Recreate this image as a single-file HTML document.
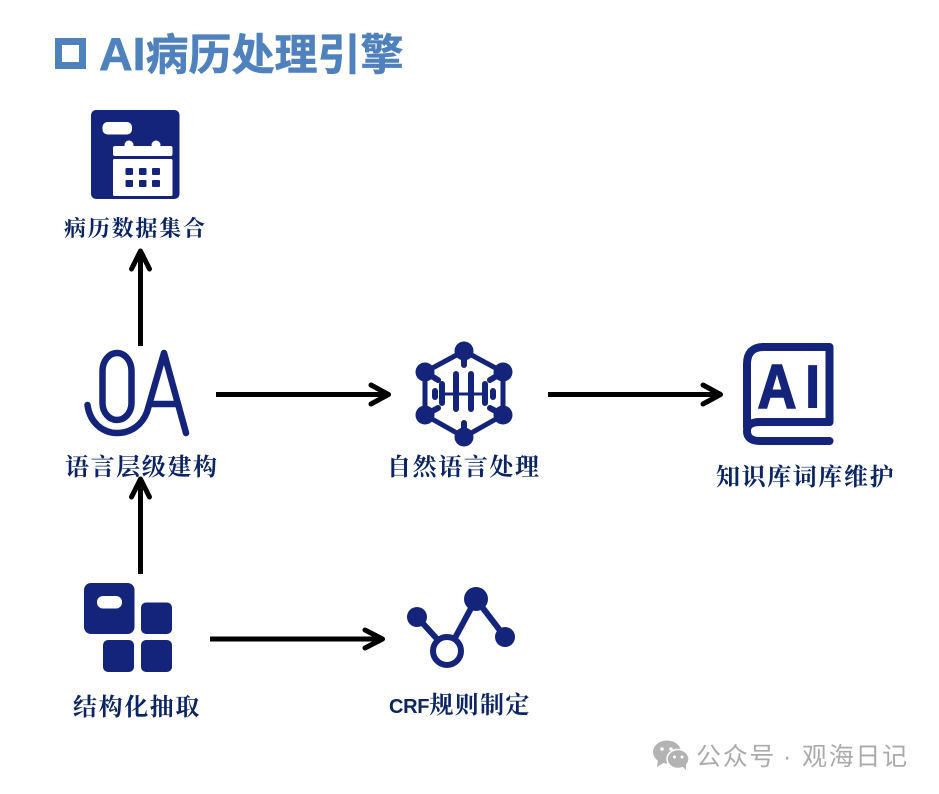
<!DOCTYPE html>
<html lang="zh">
<head>
<meta charset="utf-8">
<title>AI病历处理引擎</title>
<style>
html,body{margin:0;padding:0;background:#fff;width:939px;height:794px;overflow:hidden}
svg{display:block}
.lb{font-family:"Liberation Serif","Noto Serif CJK SC",serif;font-weight:700;fill:#0b2463;font-size:24px;letter-spacing:1.6px}
.wm{font-family:"Liberation Sans","Noto Sans CJK SC",sans-serif;fill:#ababab;font-size:25px;letter-spacing:1.7px}
</style>
</head>
<body>
<svg width="939" height="794" viewBox="0 0 939 794" xmlns="http://www.w3.org/2000/svg">
<rect width="939" height="794" fill="#fff"/>

<!-- Title -->
<rect x="58.5" y="41.5" width="24" height="24" fill="none" stroke="#4f81bd" stroke-width="7"/>
<text x="99" y="70" font-family="'Liberation Sans','Noto Sans CJK SC',sans-serif" font-weight="700" font-size="43" fill="#4f81bd" stroke="#4f81bd" stroke-width="0.6"><tspan font-size="46.5">AI</tspan><tspan>病历处理引擎</tspan></text>

<!-- Calendar icon -->
<rect x="91" y="110" width="88.5" height="89" rx="5" fill="#14247a"/>
<rect x="102.5" y="122" width="29.5" height="12.5" rx="5" fill="#fff"/>
<rect x="113" y="146" width="59.5" height="10" rx="2" fill="#fff"/>
<circle cx="129" cy="145" r="4.5" fill="#fff"/>
<circle cx="156" cy="145" r="4.5" fill="#fff"/>
<rect x="113" y="159" width="59.5" height="37" rx="1.5" fill="#fff"/>
<g fill="#14247a">
<rect x="125.5" y="168" width="7.5" height="7" rx="1"/><rect x="139" y="168" width="7.5" height="7" rx="1"/><rect x="152" y="168" width="8" height="7" rx="1"/>
<rect x="125.5" y="180" width="7.5" height="7" rx="1"/><rect x="139" y="180" width="7.5" height="7" rx="1"/><rect x="152" y="180" width="8" height="7" rx="1"/>
</g>
<text class="lb" x="64" y="236" style="font-size:22px;letter-spacing:1.8px">病历数据集合</text>

<!-- OA icon -->
<g fill="none" stroke="#14247a" stroke-width="6.5" stroke-linecap="round" stroke-linejoin="round">
<path d="M102.5 371 a14.5 18 0 0 1 29 0 V403 a14.5 17 0 0 1 -29 0 Z"/>
<path d="M87.5 405 C90 423 103 433 117 433 C131 433 142 425 147 412 L164 353 L186 433"/>
<path d="M152 404 H177"/>
</g>
<text class="lb" x="65" y="475">语言层级建构</text>

<!-- Hex NLP icon -->
<g fill="none" stroke="#14247a" stroke-width="5" stroke-linecap="round">
<path d="M464 351 L503 372 V415 L464 437 L425 415 V372 Z"/>
</g>
<g fill="none" stroke="#14247a" stroke-width="6" stroke-linecap="round">
<path d="M464 351 V365 M464 437 V423 M425 372 L438 380 M503 372 L490 380 M425 415 L438 408 M503 415 L490 408"/>
<path d="M442 384 V403 M456 374 V409 M471 374 V409 M485 384 V403 M435 391 V397 M493 391 V397"/>
<path d="M442 394 H485" stroke-width="3"/>
</g>
<g fill="#14247a">
<circle cx="464" cy="351" r="9.5"/><circle cx="464" cy="437" r="9.5"/>
<circle cx="425" cy="372" r="9.5"/><circle cx="503" cy="372" r="9.5"/>
<circle cx="425" cy="415" r="9.5"/><circle cx="503" cy="415" r="9.5"/>
</g>
<text class="lb" x="387" y="475">自然语言处理</text>

<!-- Book icon -->
<g fill="none" stroke="#14247a" stroke-width="8" stroke-linecap="round" stroke-linejoin="round">
<path d="M829.5 422 V347 H764 Q747 347 747 364 V427"/>
<path d="M829.5 422 H760 Q747 422 747 431 Q747 441 760 441 H829.5"/>
</g>
<text transform="translate(757.5,408) scale(.87,1)" font-family="'Liberation Sans',sans-serif" font-weight="700" font-size="62" fill="#14247a" stroke="#14247a" stroke-width="1.6">A</text>
<text x="804" y="408" font-family="'Liberation Sans',sans-serif" font-weight="700" font-size="62" fill="#14247a">I</text>
<text class="lb" x="716" y="485">知识库词库维护</text>

<!-- Blocks icon -->
<g fill="#14247a">
<rect x="84" y="583" width="50.5" height="51" rx="7"/>
<rect x="141" y="602.5" width="31" height="31.5" rx="5"/>
<rect x="103" y="640" width="31" height="32" rx="5"/>
<rect x="141" y="640" width="31" height="32" rx="5"/>
</g>
<rect x="97" y="596" width="25" height="12.5" rx="6" fill="#fff"/>
<text class="lb" x="73" y="715">结构化抽取</text>

<!-- Graph icon -->
<g fill="none" stroke="#14247a" stroke-width="6">
<path d="M417 617 L438 640 M455 638 L476 599 L505 637"/>
<circle cx="447" cy="651" r="14"/>
</g>
<g fill="#14247a">
<circle cx="417" cy="617" r="10"/><circle cx="476" cy="599" r="12"/><circle cx="505" cy="637" r="10"/>
</g>
<text x="389" y="713" class="lb"><tspan font-family="'Liberation Sans',sans-serif" font-weight="700" font-size="20" letter-spacing="-0.3">CRF</tspan><tspan letter-spacing="1.4">规则制定</tspan></text>

<!-- Arrows -->
<g fill="none" stroke="#000" stroke-width="5" stroke-linejoin="round">
<path d="M140.5 346 V253"/>
<path d="M131.5 269 L140.5 251 L149.5 269" stroke-linecap="round"/>
<path d="M140.5 574 V481"/>
<path d="M131.5 497 L140.5 479 L149.5 497" stroke-linecap="round"/>
<path d="M216 394.5 H386"/>
<path d="M371 385 L388.5 394.5 L371 404" stroke-linecap="round"/>
<path d="M548 394.5 H718"/>
<path d="M703 385 L720.5 394.5 L703 404" stroke-linecap="round"/>
<path d="M210 639 H380"/>
<path d="M365 630 L382.5 639 L365 648" stroke-linecap="round"/>
</g>

<!-- Watermark -->
<g fill="#b3b3b3">
<ellipse cx="667" cy="752" rx="14" ry="11.5"/>
<path d="M658 760 L657 767 L665 762 Z"/>
<ellipse cx="678" cy="759" rx="11" ry="9.5" stroke="#fff" stroke-width="1.5"/>
<path d="M682 766 L686 770 L686 763 Z"/>
</g>
<g fill="#fff">
<circle cx="662" cy="749" r="1.8"/><circle cx="671" cy="749" r="1.8"/>
<circle cx="674.5" cy="757" r="1.5"/><circle cx="682" cy="757" r="1.5"/>
</g>
<text class="wm" x="696" y="765">公众号</text>
<text class="wm" x="783" y="765">·</text>
<text class="wm" x="802" y="765">观海日记</text>
</svg>
</body>
</html>
